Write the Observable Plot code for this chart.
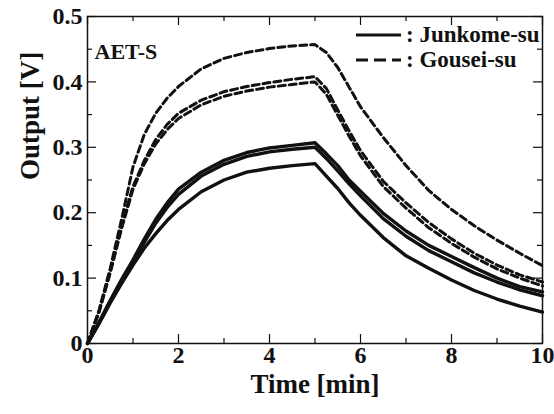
<!DOCTYPE html>
<html>
<head>
<meta charset="utf-8">
<script src="https://cdn.jsdelivr.net/npm/d3@7"></script>
<script src="https://cdn.jsdelivr.net/npm/@observablehq/plot@0.6"></script>
<style>
  body { margin: 0; background: #fff; }
  #wrap { position: relative; width: 554px; height: 414px; }
  #legend { position: absolute; left: 355px; top: 22px; font-family: "Liberation Serif", "DejaVu Serif", serif; font-weight: bold; font-size: 23px; color: #111; line-height: 25px; }
  #legend .row { display: flex; align-items: center; white-space: nowrap; }
  #legend svg { margin-right: 4px; }
</style>
</head>
<body>
<div id="wrap"><div id="legend"></div></div>
<script>
// ---- data ----
const times = [0, 0.25, 0.5, 0.75, 1, 1.25, 1.5, 1.75, 2, 2.5, 3, 3.5, 4, 4.5, 5, 5.25, 5.5, 5.75, 6, 6.5, 7, 7.5, 8, 8.5, 9, 9.5, 10];

// Junkome-su (solid)
const junkome1 = [0, 0.032, 0.066, 0.098, 0.128, 0.160, 0.190, 0.215, 0.236, 0.262, 0.280, 0.292, 0.299, 0.303, 0.307, 0.290, 0.272, 0.250, 0.233, 0.199, 0.172, 0.150, 0.133, 0.116, 0.100, 0.087, 0.079];
const junkome2 = [0, 0.031, 0.064, 0.095, 0.125, 0.155, 0.184, 0.208, 0.228, 0.256, 0.274, 0.286, 0.293, 0.297, 0.300, 0.283, 0.264, 0.244, 0.226, 0.191, 0.164, 0.142, 0.125, 0.108, 0.094, 0.082, 0.073];
const junkome3 = [0, 0.030, 0.062, 0.092, 0.120, 0.146, 0.168, 0.188, 0.205, 0.232, 0.250, 0.262, 0.268, 0.272, 0.275, 0.256, 0.237, 0.215, 0.196, 0.162, 0.134, 0.115, 0.097, 0.081, 0.068, 0.057, 0.048];

// Gousei-su (dashed)
const gousei1 = [0, 0.050, 0.115, 0.190, 0.270, 0.320, 0.352, 0.375, 0.393, 0.420, 0.436, 0.445, 0.451, 0.455, 0.457, 0.445, 0.422, 0.392, 0.362, 0.315, 0.272, 0.234, 0.205, 0.180, 0.158, 0.138, 0.119];
const gousei2 = [0, 0.048, 0.110, 0.180, 0.240, 0.280, 0.312, 0.335, 0.352, 0.372, 0.385, 0.393, 0.399, 0.404, 0.408, 0.390, 0.357, 0.325, 0.295, 0.248, 0.215, 0.185, 0.160, 0.138, 0.120, 0.105, 0.094];
const gousei3 = [0, 0.047, 0.108, 0.176, 0.236, 0.275, 0.305, 0.327, 0.344, 0.365, 0.378, 0.386, 0.392, 0.396, 0.400, 0.381, 0.349, 0.317, 0.287, 0.240, 0.207, 0.177, 0.153, 0.132, 0.114, 0.100, 0.088];

const xMajor = [0, 2, 4, 6, 8, 10];
const xMinor = [1, 3, 5, 7, 9];
const yMajor = [0, 0.1, 0.2, 0.3, 0.4, 0.5];
const yMinor = [0.05, 0.15, 0.25, 0.35, 0.45];
const yTickLabels = ["0", "0.1", "0.2", "0.3", "0.4", "0.5"];
const xTickLabels = ["0", "2", "4", "6", "8", "10"];
const legendLabels = [": Junkome-su", ": Gousei-su"];
const panelLabel = "AET-S";
const xTitle = "Time [min]";
const yTitle = "Output [V]";

// ---- build tables ----
const toRows = (vals, id) => vals.map((v, i) => ({t: times[i], v, id}));
const solidRows = [...toRows(junkome1, "j1"), ...toRows(junkome2, "j2"), ...toRows(junkome3, "j3")];
const dashRows = [...toRows(gousei1, "g1"), ...toRows(gousei2, "g2"), ...toRows(gousei3, "g3")];

const W = 554, H = 414, mL = 87, mR = 12, mT = 16, mB = 71;
const pw = W - mL - mR, ph = H - mT - mB;
const font = "Liberation Serif, DejaVu Serif, serif";
const ink = "#111";

const chart = Plot.plot({
  width: W, height: H,
  marginLeft: mL, marginRight: mR, marginTop: mT, marginBottom: mB,
  x: {domain: [0, 10], axis: null},
  y: {domain: [0, 0.5], axis: null},
  style: {fontFamily: font, background: "#fff"},
  marks: [
    Plot.line(dashRows, {x: "t", y: "v", z: "id", stroke: ink, strokeWidth: 3, strokeDasharray: "7,4"}),
    Plot.line(solidRows, {x: "t", y: "v", z: "id", stroke: ink, strokeWidth: 3.4}),
    // inward ticks on all sides
    Plot.ruleX(xMajor, {x: d => d, stroke: ink, strokeWidth: 1.2, insetTop: ph - 9}),
    Plot.ruleX(xMajor, {x: d => d, stroke: ink, strokeWidth: 1.2, insetBottom: ph - 9}),
    Plot.ruleX(xMinor, {x: d => d, stroke: ink, strokeWidth: 1.2, insetTop: ph - 5}),
    Plot.ruleX(xMinor, {x: d => d, stroke: ink, strokeWidth: 1.2, insetBottom: ph - 5}),
    Plot.ruleY(yMajor, {y: d => d, stroke: ink, strokeWidth: 1.2, insetRight: pw - 9}),
    Plot.ruleY(yMajor, {y: d => d, stroke: ink, strokeWidth: 1.2, insetLeft: pw - 9}),
    Plot.ruleY(yMinor, {y: d => d, stroke: ink, strokeWidth: 1.2, insetRight: pw - 5}),
    Plot.ruleY(yMinor, {y: d => d, stroke: ink, strokeWidth: 1.2, insetLeft: pw - 5}),
    Plot.frame({stroke: ink, strokeWidth: 1.5}),
    // tick labels
    Plot.text(xMajor, {x: d => d, frameAnchor: "bottom", dy: 19, text: (d, i) => xTickLabels[i], fontSize: 24, fontWeight: "bold", fontFamily: font, fill: ink}),
    Plot.text(yMajor, {y: d => d, frameAnchor: "left", dx: -5, textAnchor: "end", text: (d, i) => yTickLabels[i], fontSize: 24, fontWeight: "bold", fontFamily: font, fill: ink}),
    // axis titles
    Plot.text([xTitle], {frameAnchor: "bottom", dy: 49, text: d => d, fontSize: 27, fontWeight: "bold", fontFamily: font, fill: ink}),
    Plot.text([yTitle], {frameAnchor: "left", dx: -57, rotate: -90, text: d => d, fontSize: 27, fontWeight: "bold", fontFamily: font, fill: ink}),
    // panel label
    Plot.text([panelLabel], {frameAnchor: "top-left", dx: 7, dy: 27, textAnchor: "start", text: d => d, fontSize: 22, fontWeight: "bold", fontFamily: font, fill: ink})
  ]
});
document.getElementById("wrap").prepend(chart);

// legend overlay
const lg = document.getElementById("legend");
const dashes = ["", "12,6"];
legendLabels.forEach((lab, i) => {
  const row = document.createElement("div");
  row.className = "row";
  row.innerHTML = `<svg width="47" height="10"><line x1="1" y1="5" x2="46" y2="5" stroke="${ink}" stroke-width="3" ${dashes[i] ? `stroke-dasharray="${dashes[i]}"` : ""}/></svg><span>${lab}</span>`;
  lg.appendChild(row);
});
</script>
</body>
</html>
